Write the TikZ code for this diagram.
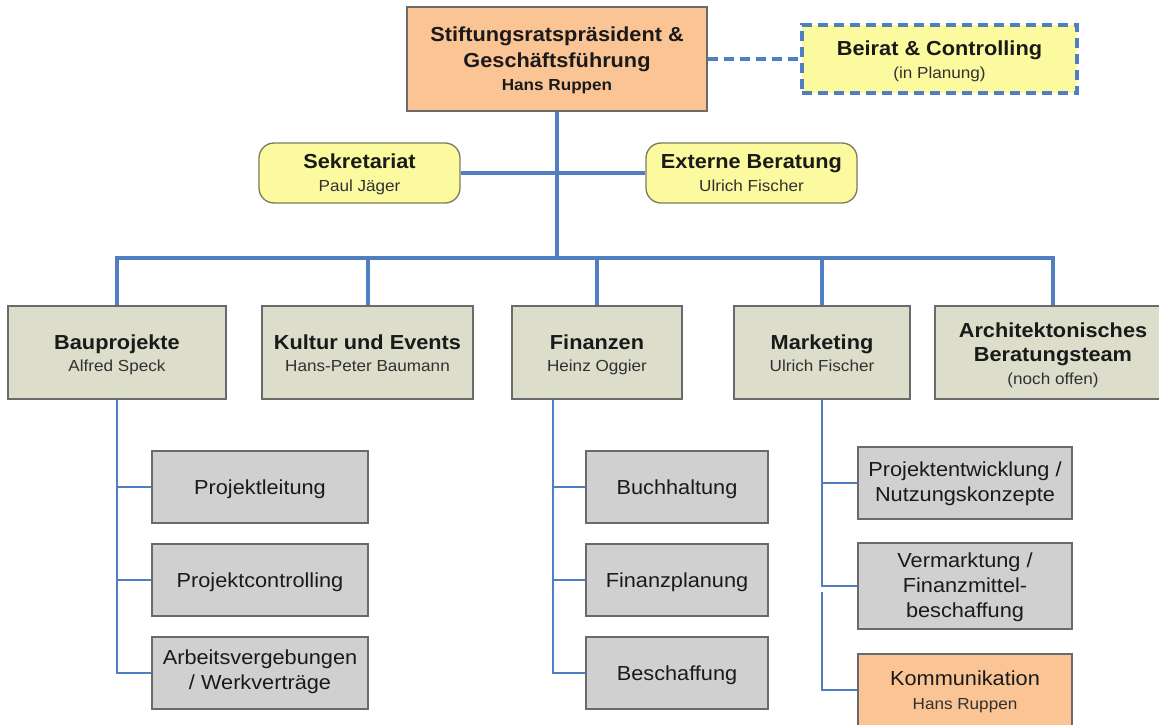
\documentclass[tikz,border=0pt]{standalone}
\usepackage{fontspec}
\setmainfont{Liberation Sans}[FakeStretch=1.07]
\definecolor{conn}{HTML}{4F7FC0}
\definecolor{orangefill}{HTML}{FAC494}
\definecolor{yellowfill}{HTML}{FCFA9E}
\definecolor{olivefill}{HTML}{DCDDCA}
\definecolor{grayfill}{HTML}{D0D0D0}
\definecolor{edge}{HTML}{6A6A6A}
\definecolor{yedge}{HTML}{7D7B5A}
\definecolor{ink}{HTML}{1A1A1A}
\tikzset{
  box/.style={draw=edge, line width=1.5pt, inner sep=0pt},
  topbox/.style={box, fill=orangefill},
  l2box/.style={box, fill=olivefill, minimum height=93},
  l3box/.style={box, fill=grayfill},
  roundbox/.style={draw=yedge, line width=1.3pt, fill=yellowfill, rounded corners=15pt, inner sep=0pt, minimum height=60},
  planbox/.style={draw=conn, line width=3.2pt, dash pattern=on 10pt off 6pt, fill=yellowfill, inner sep=0pt},
  busline/.style={draw=conn, line width=4pt},
  branchline/.style={draw=conn, line width=2.5pt},
  planline/.style={draw=conn, line width=3.2pt, dash pattern=on 10pt off 6pt},
  tb/.style={anchor=base, text=ink, font=\fontsize{20.3}{24}\selectfont\bfseries},
  tbs/.style={anchor=base, text=ink, font=\fontsize{16}{19}\selectfont\bfseries},
  ts/.style={anchor=base, text=ink!90, font=\fontsize{16}{19}\selectfont},
  tr/.style={anchor=base, text=ink, font=\fontsize{20.3}{24}\selectfont},
}
\begin{document}
\begin{tikzpicture}[x=1pt,y=-1pt]
\useasboundingbox (0,0) rectangle (1159,725);
\fill[white] (0,0) rectangle (1159,725);
\clip (0,0) rectangle (1159,725);

% top level
\node[topbox, minimum width=300, minimum height=104] (top) at (557,59) {};
\node[tb] (topa) at (557,42) {Stiftungsratspräsident \&};
\node[tb] (topb) at (557,67) {Geschäftsführung};
\node[tbs] (topc) at (557,90) {Hans Ruppen};

\node[planbox, minimum width=275, minimum height=68] (beirat) at (939.5,59) {};
\node[tb] (beirata) at (939.5,56) {Beirat \& Controlling};
\node[ts] (beiratb) at (939.5,78) {(in Planung)};

\node[roundbox, minimum width=201] (sek) at (359.5,173) {};
\node[tb] (seka) at (359.5,168) {Sekretariat};
\node[ts] (sekb) at (359.5,191) {Paul Jäger};

\node[roundbox, minimum width=211] (ext) at (751.5,173) {};
\node[tb] (exta) at (751.5,168) {Externe Beratung};
\node[ts] (extb) at (751.5,191) {Ulrich Fischer};

% level 2
\node[l2box, minimum width=218] (bau) at (117,352.5) {};
\node[tb] (baua) at (117,349) {Bauprojekte};
\node[ts] (baub) at (117,371) {Alfred Speck};

\node[l2box, minimum width=211] (kul) at (367.5,352.5) {};
\node[tb] (kula) at (367.5,349) {Kultur und Events};
\node[ts] (kulb) at (367.5,371) {Hans-Peter Baumann};

\node[l2box, minimum width=170] (fin) at (597,352.5) {};
\node[tb] (fina) at (597,349) {Finanzen};
\node[ts] (finb) at (597,371) {Heinz Oggier};

\node[l2box, minimum width=176] (mkt) at (822,352.5) {};
\node[tb] (mkta) at (822,349) {Marketing};
\node[ts] (mktb) at (822,371) {Ulrich Fischer};

\node[l2box, minimum width=236] (arch) at (1053,352.5) {};
\node[tb] (archa) at (1053,337) {Architektonisches};
\node[tb] (archb) at (1053,361) {Beratungsteam};
\node[ts] (archc) at (1053,384) {(noch offen)};

% level 3 - Bauprojekte
\node[l3box, minimum width=216, minimum height=72] (pl) at (260,487) {};
\node[tr] (pla) at (260,494) {Projektleitung};
\node[l3box, minimum width=216, minimum height=72] (pc) at (260,580) {};
\node[tr] (pca) at (260,587) {Projektcontrolling};
\node[l3box, minimum width=216, minimum height=72] (av) at (260,673) {};
\node[tr] (ava) at (260,664) {Arbeitsvergebungen};
\node[tr] (avb) at (260,689) {/ Werkverträge};

% level 3 - Finanzen
\node[l3box, minimum width=182, minimum height=72] (bh) at (677,487) {};
\node[tr] (bha) at (677,494) {Buchhaltung};
\node[l3box, minimum width=182, minimum height=72] (fp) at (677,580) {};
\node[tr] (fpa) at (677,587) {Finanzplanung};
\node[l3box, minimum width=182, minimum height=72] (bs) at (677,673) {};
\node[tr] (bsa) at (677,680) {Beschaffung};

% level 3 - Marketing
\node[l3box, minimum width=214, minimum height=72] (pe) at (965,483) {};
\node[tr] (pea) at (965,476) {Projektentwicklung /};
\node[tr] (peb) at (965,501) {Nutzungskonzepte};
\node[l3box, minimum width=214, minimum height=86] (vm) at (965,586) {};
\node[tr] (vma) at (965,567) {Vermarktung /};
\node[tr] (vmb) at (965,592) {Finanzmittel-};
\node[tr] (vmc) at (965,617) {beschaffung};
\node[topbox, minimum width=214, minimum height=72] (kom) at (965,690) {};
\node[tr] (koma) at (965,685) {Kommunikation};
\node[ts] (komb) at (965,709) {Hans Ruppen};

% connectors
\coordinate (bus) at (557,258);
\draw[planline] (top.east) -- (beirat.west);
\draw[busline] (top.south) -- (bus);
\draw[busline] (sek.east) -- (ext.west);
\draw[busline] (bau.north) |- (bus);
\draw[busline] (kul.north) |- (bus);
\draw[busline] (fin.north) |- (bus);
\draw[busline] (mkt.north) |- (bus);
\draw[busline] (arch.north) |- (bus);

\draw[branchline] (bau.south) |- (pl.west);
\draw[branchline] (bau.south) |- (pc.west);
\draw[branchline] (bau.south) |- (av.west);

\coordinate (finstem) at ([xshift=-44pt]fin.south);
\draw[branchline] (finstem) |- (bh.west);
\draw[branchline] (finstem) |- (fp.west);
\draw[branchline] (finstem) |- (bs.west);

\coordinate (mgap) at ([yshift=-6pt]vm.west -| mkt.south);
\draw[branchline] (mkt.south) |- (pe.west);
\draw[branchline] (mkt.south) |- (vm.west);
\draw[branchline] (mgap) |- (kom.west);
\end{tikzpicture}
\end{document}
